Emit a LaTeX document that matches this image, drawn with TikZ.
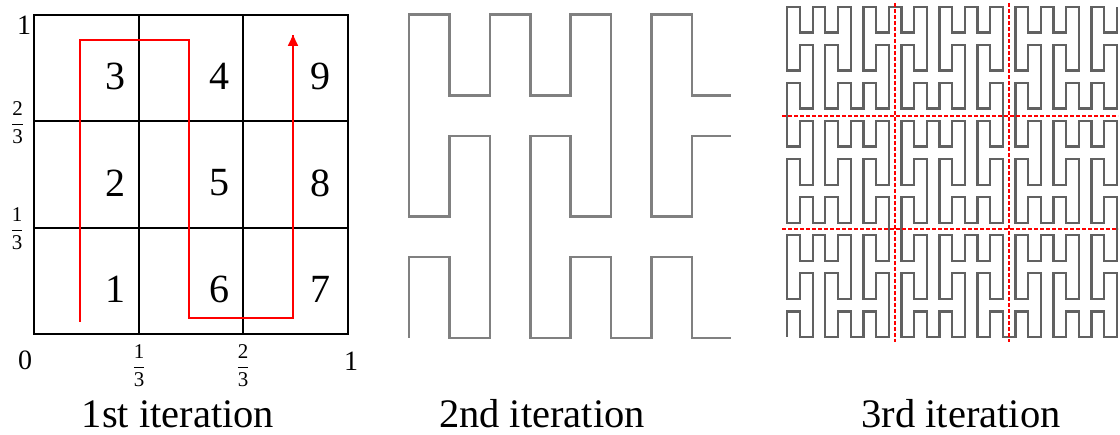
\documentclass[tikz,border=0pt]{standalone}
\usepackage{fontspec}
\setmainfont{Liberation Serif}
\usepackage{amsmath}
\usetikzlibrary{arrows.meta}
\begin{document}
\begin{tikzpicture}[x=1pt,y=-1pt,
  gridline/.style={line width=2pt,black},
  redpath/.style={line width=1.7pt,red,line join=miter},
  curvetwo/.style={line width=2.6pt,black!50},
  curvethree/.style={line width=2.3pt,black!62},
  reddash/.style={line width=1.6pt,red,dash pattern=on 4pt off 2pt},
  digit/.style={inner sep=0pt,font=\fontsize{40}{40}\selectfont},
  axislab/.style={inner sep=0pt,font=\fontsize{28}{28}\selectfont},
  fraclab/.style={inner sep=0pt,font=\fontsize{21}{21}\selectfont},
  caption/.style={inner sep=0pt,anchor=base,font=\fontsize{40.5}{40.5}\selectfont}]
\useasboundingbox (0,0) rectangle (1120,435);

% ---------- 1st iteration ----------
\coordinate (g00) at (34,334);
\coordinate (g11) at (348,15);
\coordinate (vx1b) at (139,334); \coordinate (vx1t) at (139,15);
\coordinate (vx2b) at (243,334); \coordinate (vx2t) at (243,15);
\coordinate (hy1l) at (34,228); \coordinate (hy1r) at (348,228);
\coordinate (hy2l) at (34,121); \coordinate (hy2r) at (348,121);
\draw[gridline] (g00) rectangle (g11);
\draw[gridline] (vx1b) -- (vx1t);
\draw[gridline] (vx2b) -- (vx2t);
\draw[gridline] (hy1l) -- (hy1r);
\draw[gridline] (hy2l) -- (hy2r);

\node[digit] (n3) at (115,76.5) {3};
\node[digit] (n4) at (219.5,76.5) {4};
\node[digit] (n9) at (320,76.5) {9};
\node[digit] (n2) at (115,183) {2};
\node[digit] (n5) at (219.5,183) {5};
\node[digit] (n8) at (320,183) {8};
\node[digit] (n1) at (115.5,289) {1};
\node[digit] (n6) at (219.5,289) {6};
\node[digit] (n7) at (320,289) {7};

\coordinate (r0) at (80,322);
\coordinate (r1) at (80,40);
\coordinate (r2) at (189,40);
\coordinate (r3) at (189,318);
\coordinate (r4) at (293,318);
\coordinate (r5) at (293,35);
\draw[redpath] (r0) -- (r1) -- (r2) -- (r3) -- (r4) -- (r5);
\draw[redpath,-{Triangle[length=11pt,width=10pt]}] (r4) -- (r5);

\node[axislab] (ltop) at (24,25) {1};
\node[axislab] (lzero) at (25,360.5) {0};
\node[axislab] (lone) at (351,361) {1};
\node[fraclab] (fy2) at (17.5,122.5) {$\displaystyle\frac{\text{2}}{\text{3}}$};
\node[fraclab] (fy1) at (17,228.5) {$\displaystyle\frac{\text{1}}{\text{3}}$};
\node[fraclab] (fx1) at (139,366) {$\displaystyle\frac{\text{1}}{\text{3}}$};
\node[fraclab] (fx2) at (243,366) {$\displaystyle\frac{\text{2}}{\text{3}}$};

\node[caption] (cap1) at (178,428) {1st iteration};

% ---------- 2nd iteration ----------
\foreach \n in {0,...,80}{
  \pgfmathtruncatemacro\ta{div(\n,27)}
  \pgfmathtruncatemacro\tb{mod(div(\n,9),3)}
  \pgfmathtruncatemacro\tc{mod(div(\n,3),3)}
  \pgfmathtruncatemacro\td{mod(\n,3)}
  \pgfmathtruncatemacro\X{3*\ta + \tc + mod(\tb,2)*(2-2*\tc)}
  \pgfmathtruncatemacro\Y{3*(\tb + mod(\ta,2)*(2-2*\tb)) + \td + mod(\ta+\tc,2)*(2-2*\td)}
  \coordinate (b\n) at ({409+40.4*\X},{338-40.4*\Y});
}
\begin{scope}
  \clip (395,0) rectangle (730.8,350);
  \draw[curvetwo] (b0) \foreach \n in {1,...,80}{ -- (b\n) };
\end{scope}
\node[caption] (cap2) at (542,428) {2nd iteration};

% ---------- 3rd iteration ----------
\foreach \n in {0,...,728}{
  \pgfmathtruncatemacro\ta{div(\n,243)}
  \pgfmathtruncatemacro\tb{mod(div(\n,81),3)}
  \pgfmathtruncatemacro\tc{mod(div(\n,27),3)}
  \pgfmathtruncatemacro\td{mod(div(\n,9),3)}
  \pgfmathtruncatemacro\te{mod(div(\n,3),3)}
  \pgfmathtruncatemacro\tf{mod(\n,3)}
  \pgfmathtruncatemacro\X{9*\ta + 3*(\tc + mod(\tb,2)*(2-2*\tc)) + \te + mod(\tb+\td,2)*(2-2*\te)}
  \pgfmathtruncatemacro\Y{9*(\tb + mod(\ta,2)*(2-2*\tb)) + 3*(\td + mod(\ta+\tc,2)*(2-2*\td)) + \tf + mod(\ta+\tc+\te,2)*(2-2*\tf)}
  \coordinate (c\n) at ({787.3+12.68*\X},{336.7-12.67*\Y});
}
\draw[curvethree] (c0) \foreach \n in {1,...,728}{ -- (c\n) };

\coordinate (dv1t) at (895,3);  \coordinate (dv1b) at (895,342);
\coordinate (dv2t) at (1009,3); \coordinate (dv2b) at (1009,342);
\coordinate (dh1l) at (782,116); \coordinate (dh1r) at (1118,116);
\coordinate (dh2l) at (782,229); \coordinate (dh2r) at (1118,229);
\draw[reddash] (dv1t) -- (dv1b);
\draw[reddash] (dv2t) -- (dv2b);
\draw[reddash] (dh1l) -- (dh1r);
\draw[reddash] (dh2l) -- (dh2r);

\node[caption] (cap3) at (961,428) {3rd iteration};
\end{tikzpicture}
\end{document}
